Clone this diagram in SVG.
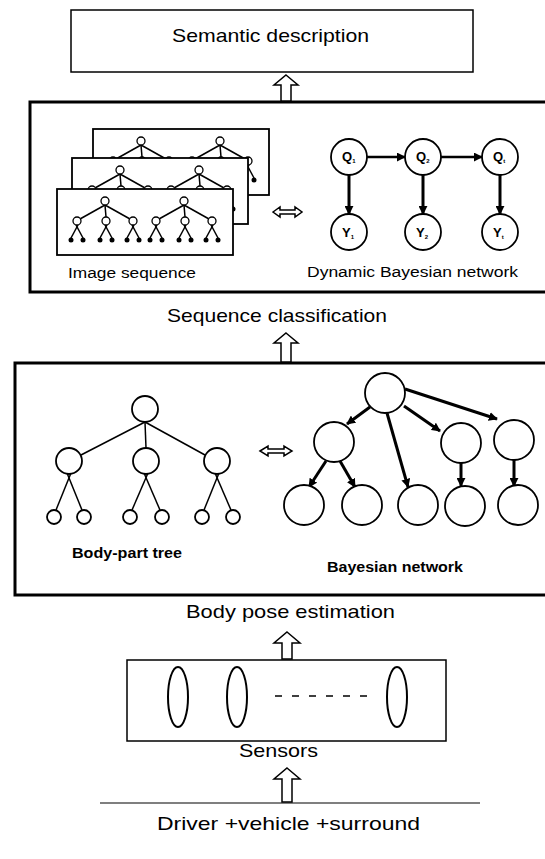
<svg xmlns="http://www.w3.org/2000/svg" xmlns:xlink="http://www.w3.org/1999/xlink" width="545" height="859" viewBox="0 0 545 859">
  <style>
    text { font-family: "Liberation Sans", Arial, sans-serif; fill: #000; }
    .title { font-size: 19px; }
    .label { font-size: 14px; }
    .thin { fill: #fff; stroke: #000; stroke-width: 1.5; }
    .thick { fill: none; stroke: #000; stroke-width: 3; }
    .node { fill: #fff; stroke: #000; stroke-width: 1.8; }
    .edge { stroke: #000; stroke-width: 1.5; fill: none; }
    .bold-edge { stroke: #000; stroke-width: 3; fill: none; }
    .block { fill: #fff; stroke: #000; stroke-width: 1.5; stroke-linejoin: miter; }
    .sub { font-size: 6px; }
    .var { font-size: 13px; font-weight: bold; }
  </style>
  <defs>
    <marker id="head" viewBox="0 0 10 10" refX="9" refY="5" markerWidth="9" markerHeight="9" markerUnits="userSpaceOnUse" orient="auto">
      <path d="M0,0 L10,5 L0,10 Z" fill="#000"/>
    </marker>
    <!-- one stick-figure tree, root at (48,12) -->
    <g id="stick">
      <g class="edge" stroke-width="1.2">
        <line x1="48" y1="16" x2="23" y2="30"/>
        <line x1="48" y1="16" x2="49" y2="28"/>
        <line x1="48" y1="16" x2="73" y2="30"/>
        <line x1="21" y1="36" x2="14" y2="49"/>
        <line x1="19" y1="36" x2="26" y2="49"/>
        <line x1="50" y1="36" x2="43" y2="49"/>
        <line x1="48" y1="36" x2="55" y2="49"/>
        <line x1="77" y1="36" x2="70" y2="49"/>
        <line x1="75" y1="36" x2="82" y2="49"/>
      </g>
      <g fill="#fff" stroke="#000" stroke-width="1.3">
        <circle cx="48" cy="12" r="4"/>
        <circle cx="20" cy="32" r="4"/>
        <circle cx="49" cy="32" r="4"/>
        <circle cx="76" cy="32" r="4"/>
      </g>
      <g fill="#000">
        <circle cx="14" cy="51" r="2.5"/>
        <circle cx="26" cy="51" r="2.5"/>
        <circle cx="43" cy="51" r="2.5"/>
        <circle cx="55" cy="51" r="2.5"/>
        <circle cx="70" cy="51" r="2.5"/>
        <circle cx="82" cy="51" r="2.5"/>
      </g>
    </g>
    <g id="frame">
      <rect x="0" y="0" width="176" height="66" fill="#fff" stroke="#000" stroke-width="1.8"/>
      <use xlink:href="#stick"/>
      <use xlink:href="#stick" transform="translate(79,0)"/>
    </g>
  </defs>

  <rect width="545" height="859" fill="#fff"/>

  <!-- top: semantic description -->
  <g id="semantic">
    <rect x="71" y="10" width="402" height="62" class="thin"/>
    <text x="172" y="42" class="title" textLength="197" lengthAdjust="spacingAndGlyphs">Semantic description</text>
  </g>

  <!-- sequence classification stage -->
  <g id="sequence-classification">
    <rect x="30" y="102" width="530" height="190" class="thick"/>
    <g id="image-sequence">
      <use xlink:href="#frame" transform="translate(93,129)"/>
      <use xlink:href="#frame" transform="translate(72,158)"/>
      <use xlink:href="#frame" transform="translate(57,189)"/>
      <text x="68" y="278" class="label" textLength="128" lengthAdjust="spacingAndGlyphs">Image sequence</text>
    </g>
    <path d="M273,212 L280,207 L280,210 L295,210 L295,207 L302,212 L295,217 L295,214 L280,214 L280,217 Z" class="block"/>
    <g id="dbn">
      <g class="bold-edge" marker-end="url(#head)">
        <line x1="367" y1="157" x2="405" y2="157" stroke-width="2.4"/>
        <line x1="441" y1="157" x2="482" y2="157" stroke-width="2.4"/>
        <line x1="349" y1="175" x2="349" y2="214"/>
        <line x1="423" y1="175" x2="423" y2="214"/>
        <line x1="500" y1="175" x2="500" y2="214"/>
      </g>
      <g class="node">
        <circle cx="349" cy="157" r="18"/>
        <circle cx="423" cy="157" r="18"/>
        <circle cx="500" cy="157" r="18"/>
        <circle cx="349" cy="232" r="18"/>
        <circle cx="423" cy="232" r="18"/>
        <circle cx="500" cy="232" r="18"/>
      </g>
      <text x="342" y="161" class="var">Q<tspan class="sub" dy="2">1</tspan></text>
      <text x="416" y="161" class="var">Q<tspan class="sub" dy="2">2</tspan></text>
      <text x="493" y="161" class="var">Q<tspan class="sub" dy="2">t</tspan></text>
      <text x="342" y="237" class="var">Y<tspan class="sub" dy="2">1</tspan></text>
      <text x="416" y="237" class="var">Y<tspan class="sub" dy="2">2</tspan></text>
      <text x="493" y="237" class="var">Y<tspan class="sub" dy="2">t</tspan></text>
      <text x="307" y="277" class="label" font-size="15" textLength="211" lengthAdjust="spacingAndGlyphs">Dynamic Bayesian network</text>
    </g>
  </g>
  <text id="sequence-caption" x="167" y="322" class="title" textLength="220" lengthAdjust="spacingAndGlyphs">Sequence classification</text>

  <!-- body pose estimation stage -->
  <g id="body-pose-estimation">
    <rect x="15" y="363" width="545" height="232" class="thick"/>
    <g id="body-part-tree">
      <g class="edge">
        <line x1="145" y1="422" x2="81" y2="455"/>
        <line x1="145" y1="422" x2="146" y2="448"/>
        <line x1="145" y1="422" x2="205" y2="455"/>
        <line x1="71" y1="473" x2="56" y2="510"/>
        <line x1="67" y1="473" x2="82" y2="510"/>
        <line x1="148" y1="473" x2="132" y2="510"/>
        <line x1="144" y1="473" x2="160" y2="510"/>
        <line x1="219" y1="473" x2="204" y2="510"/>
        <line x1="215" y1="473" x2="231" y2="510"/>
      </g>
      <g class="node" stroke-width="1.5">
        <circle cx="145" cy="409" r="13"/>
        <circle cx="69" cy="461" r="13"/>
        <circle cx="146" cy="461" r="13"/>
        <circle cx="217" cy="461" r="13"/>
        <circle cx="54" cy="517" r="7"/>
        <circle cx="84" cy="517" r="7"/>
        <circle cx="130" cy="517" r="7"/>
        <circle cx="162" cy="517" r="7"/>
        <circle cx="202" cy="517" r="7"/>
        <circle cx="233" cy="517" r="7"/>
      </g>
      <text x="72" y="558" class="label" font-weight="bold" font-size="13" textLength="110" lengthAdjust="spacingAndGlyphs">Body-part tree</text>
    </g>
    <path d="M260,451 L268,446 L268,449 L284,449 L284,446 L292,451 L284,456 L284,453 L268,453 L268,456 Z" class="block"/>
    <g id="bayesian-network">
      <g class="bold-edge" marker-end="url(#head)">
        <line x1="370" y1="407" x2="347" y2="424"/>
        <line x1="387" y1="413" x2="408" y2="487"/>
        <line x1="404" y1="406" x2="440" y2="431"/>
        <line x1="405" y1="389" x2="497" y2="419"/>
        <line x1="326" y1="461" x2="309" y2="487"/>
        <line x1="340" y1="461" x2="355" y2="487"/>
        <line x1="461" y1="463" x2="461" y2="486"/>
        <line x1="514" y1="460" x2="514" y2="486"/>
      </g>
      <g class="node" stroke-width="2.2">
        <circle cx="385" cy="393" r="20"/>
        <circle cx="334" cy="442" r="20"/>
        <circle cx="461" cy="443" r="20"/>
        <circle cx="514" cy="440" r="20"/>
        <circle cx="304" cy="505" r="20"/>
        <circle cx="362" cy="505" r="20"/>
        <circle cx="418" cy="505" r="20"/>
        <circle cx="465" cy="506" r="20"/>
        <circle cx="518" cy="505" r="20"/>
      </g>
      <text x="327" y="572" class="label" font-weight="bold" font-size="13" textLength="136" lengthAdjust="spacingAndGlyphs">Bayesian network</text>
    </g>
  </g>
  <text id="pose-caption" x="186" y="618" class="title" textLength="209" lengthAdjust="spacingAndGlyphs">Body pose estimation</text>

  <!-- sensors -->
  <g id="sensors">
    <rect x="127" y="660" width="319" height="81" class="thin"/>
    <g fill="none" stroke="#000" stroke-width="2">
      <ellipse cx="178" cy="697" rx="10" ry="30"/>
      <ellipse cx="237" cy="697" rx="10" ry="30"/>
      <ellipse cx="397" cy="697" rx="10" ry="30"/>
      <line x1="275" y1="696" x2="377" y2="696" stroke-width="1.5" stroke-dasharray="7 10"/>
    </g>
    <text x="239" y="757" class="title" font-size="16" textLength="79" lengthAdjust="spacingAndGlyphs">Sensors</text>
  </g>

  <!-- driver, vehicle and surroundings -->
  <g id="driver">
    <line x1="100" y1="803" x2="480" y2="803" stroke="#000" stroke-width="1.2"/>
    <text x="157" y="830" class="title" textLength="263" lengthAdjust="spacingAndGlyphs">Driver +vehicle +surround</text>
  </g>

  <!-- upward block arrows between stages -->
  <g id="connectors">
    <path d="M286,75 L298,85 L291,85 L291,101 L281,101 L281,85 L274,85 Z" class="block"/>
    <path d="M286,333 L298,343 L291,343 L291,362 L281,362 L281,343 L274,343 Z" class="block"/>
    <path d="M287,632 L300,643 L292,643 L292,659 L282,659 L282,643 L274,643 Z" class="block"/>
    <path d="M287,768 L300,779 L292,779 L292,802 L282,802 L282,779 L274,779 Z" class="block"/>
  </g>
</svg>
